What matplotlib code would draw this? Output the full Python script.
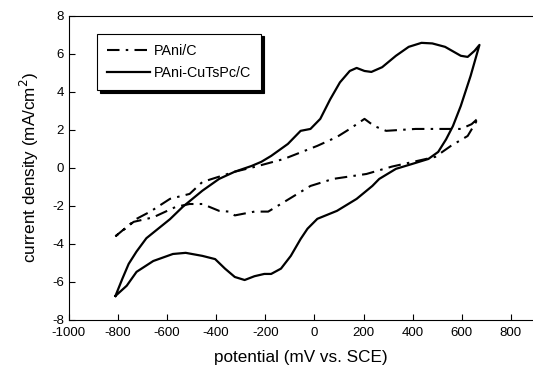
import matplotlib
matplotlib.use("Agg")
import matplotlib.pyplot as plt

# PAni/C  (dash-dot), anodic then cathodic sweep
pani_x = [-810, -724, -668, -588, -508, -456, -324, -244, -124, 12, 92, 144, 204,
          228, 252, 292, 412, 492, 596, 640, 668,
          624, 556, 492, 396, 316, 212, 76, -16, -124, -188, -244, -324, -348,
          -388, -456, -508, -564, -656, -736, -810]
pani_y = [-3.6, -2.68, -2.3, -1.63, -1.37, -0.74, -0.2, 0.05, 0.47, 1.16, 1.63, 2.05, 2.58,
          2.35, 2.16, 1.95, 2.05, 2.05, 2.05, 2.3, 2.63,
          1.68, 1.16, 0.58, 0.3, 0.07, -0.32, -0.58, -0.95, -1.8, -2.3, -2.3, -2.5, -2.3,
          -2.26, -1.9, -1.9, -2.05, -2.6, -2.84, -3.6]

# PAni-CuTsPc/C (solid)
cu_x = [-810, -782, -756, -724, -684, -636, -588, -536, -456, -388, -324, -256, -216, -176,
        -108, -56, -16, 24, 64, 104, 144, 172, 204, 232, 276, 332, 384, 436, 480, 532, 596,
        624, 652, 672,
        636, 596, 564, 536, 504, 464, 396, 332, 264, 236, 172, 92, 12, -28, -56, -96,
        -136, -176, -204, -244, -284, -324, -364, -404, -456, -524, -576, -656, -724, -764, -810]
cu_y = [-6.74, -5.84, -5.05, -4.4, -3.7, -3.2, -2.7, -2.05, -1.2, -0.58, -0.2, 0.1, 0.32, 0.63,
        1.26, 1.95, 2.05, 2.58, 3.6, 4.5, 5.1, 5.26, 5.1, 5.05, 5.3, 5.9, 6.37, 6.58, 6.55, 6.37, 5.9,
        5.84, 6.16, 6.47,
        4.84, 3.26, 2.2, 1.5, 0.84, 0.47, 0.2, -0.05, -0.58, -0.95, -1.63, -2.26, -2.68, -3.2, -3.74, -4.63,
        -5.3, -5.58, -5.58, -5.7, -5.9, -5.74, -5.3, -4.8, -4.63, -4.47, -4.53, -4.9, -5.47, -6.2, -6.74]

plt.rcParams["font.family"] = ["Liberation Sans", "DejaVu Sans"]
plt.rcParams["axes.unicode_minus"] = False

fig = plt.figure(figsize=(5.33, 3.69), dpi=100)
ax = fig.add_axes([0.129, 0.133, 0.871, 0.824])

ax.plot(pani_x, pani_y, color="black", lw=1.5, linestyle=(0, (6, 3, 1.2, 3)),
        solid_joinstyle="round", dash_joinstyle="round", label="PAni/C")
ax.plot(cu_x, cu_y, color="black", lw=1.6, solid_joinstyle="round", label="PAni-CuTsPc/C")

ax.set_xlim(-1000, 890)
ax.set_ylim(-8, 8)
ax.set_xticks(range(-1000, 801, 200))
ax.set_yticks(range(-8, 9, 2))
ax.tick_params(direction="in", length=4, labelsize=9.5)
ax.tick_params(axis="x", pad=5)
ax.spines["right"].set_visible(False)
ax.set_xlabel("potential (mV vs. SCE)", fontsize=12.3, labelpad=8)
ax.set_ylabel("current density (mA/cm$^2$)", fontsize=12.3, labelpad=8)

leg = ax.legend(loc="upper left", bbox_to_anchor=(0.045, 0.965), frameon=True, fancybox=False,
                shadow={"color": "black", "alpha": 1}, fontsize=10.3, handlelength=3,
                borderpad=0.7, labelspacing=0.6, handletextpad=0.3)
leg.get_frame().set_edgecolor("black")
leg.get_frame().set_linewidth(0.8)

fig.savefig("out.png", dpi=100)
